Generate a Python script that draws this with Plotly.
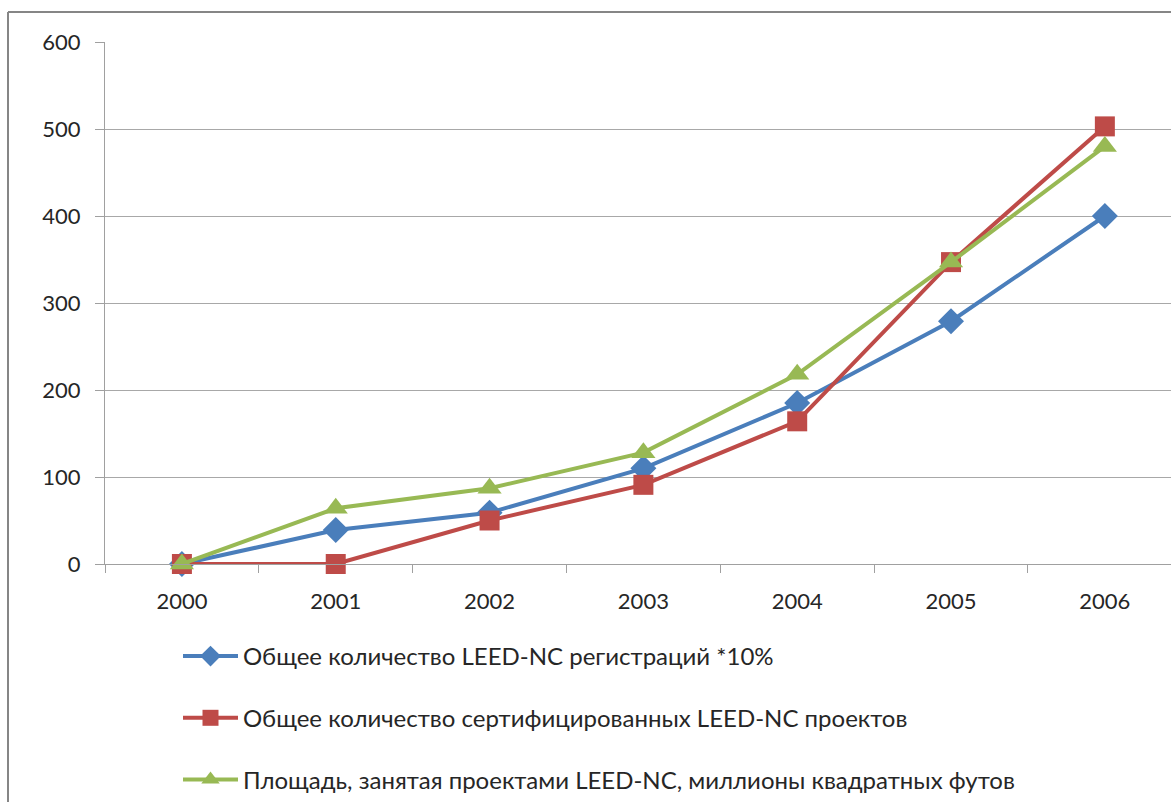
import plotly.graph_objects as go

years = ["2000", "2001", "2002", "2003", "2004", "2005", "2006"]
registrations = [0, 39, 59, 110, 185, 279, 400]
certified = [0, 0, 50, 91, 164, 347, 503]
area = [0, 64, 87, 128, 218, 347, 480]

names = [
    "Общее количество LEED-NC регистраций *10%",
    "Общее количество сертифицированных LEED-NC проектов",
    "Площадь, занятая проектами LEED-NC, миллионы квадратных футов",
]
colors = ["#4a7ebb", "#be4b48", "#98b954"]
symbols = ["diamond", "square", "triangle-up"]
sizes = [20, 20, 21]
series = [registrations, certified, area]

fig = go.Figure()
for i in range(3):
    fig.add_trace(go.Scatter(
        x=years, y=series[i], name=names[i], mode="lines+markers",
        line=dict(color=colors[i], width=4),
        marker=dict(symbol=symbols[i], size=sizes[i], color=colors[i]),
        legendgroup=f"g{i}", cliponaxis=False,
    ))

W, H = 1171, 802
L, T, B = 105, 42, 238
pw = W - L
ph = H - T - B

fig.update_layout(
    width=W, height=H,
    margin=dict(l=L, r=0, t=T, b=B, autoexpand=False),
    paper_bgcolor="white", plot_bgcolor="white",
    font=dict(family="Lato, 'Open Sans', sans-serif", size=22, color="#262626"),
    showlegend=True,
    legend=dict(
        x=(178 - L) / pw, xanchor="left",
        y=(564 - 634) / ph, yanchor="top",
        font=dict(size=24, color="#262626"),
        tracegroupgap=27.5, traceorder="grouped", itemwidth=55,
        bgcolor="rgba(0,0,0,0)",
    ),
    xaxis=dict(
        type="category", range=[-0.5, 6.43],
        showgrid=False, showline=True, linecolor="#a0a0a0", linewidth=1,
        ticks="outside", tickson="boundaries", ticklen=8, tickcolor="#a0a0a0",
        tickfont=dict(size=22), zeroline=False, ticklabelstandoff=18,
    ),
    yaxis=dict(
        range=[0, 600], dtick=100, tickmode="linear",
        showgrid=True, gridcolor="#a8a8a8", gridwidth=1,
        showline=True, linecolor="#a0a0a0", linewidth=1,
        ticks="outside", ticklen=9, tickcolor="#a0a0a0",
        tickfont=dict(size=22), zeroline=False, ticklabelstandoff=10,
    ),
)

# outer chart frame (left and top edges visible)
x0 = (8 - L) / pw
y0 = 1 + (T - 12) / ph
fig.add_shape(type="line", xref="paper", yref="paper", x0=x0, x1=x0, y0=y0, y1=-2,
              line=dict(color="#868686", width=2))
fig.add_shape(type="line", xref="paper", yref="paper", x0=x0, x1=1.2, y0=y0, y1=y0,
              line=dict(color="#868686", width=2))

fig.write_html("out.html")
